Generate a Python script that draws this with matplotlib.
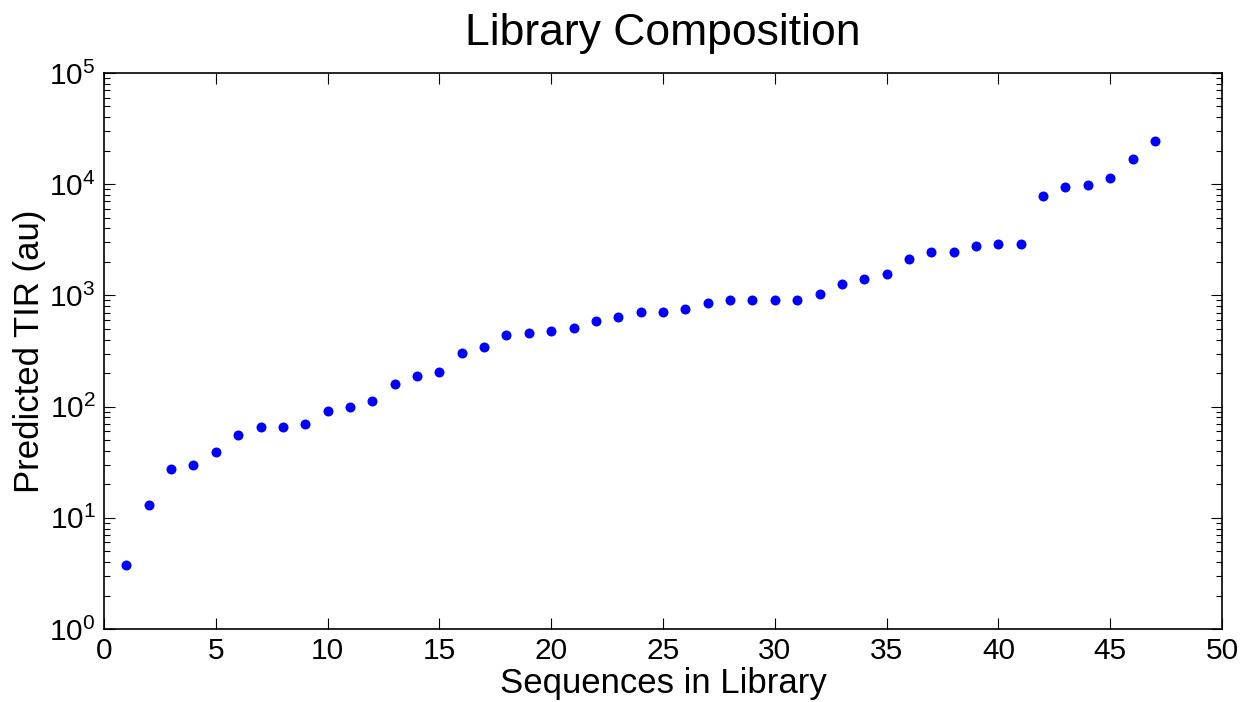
import numpy as np
import matplotlib.pyplot as plt
from matplotlib.ticker import LogLocator, NullFormatter

plt.rcParams['font.family'] = ['Liberation Sans', 'DejaVu Sans']
plt.rcParams['mathtext.fontset'] = 'custom'
plt.rcParams['mathtext.rm'] = 'Liberation Sans'
plt.rcParams['mathtext.it'] = 'Liberation Sans'

# predicted TIR per sequence, sorted
seq_idx = np.arange(1, 48)
tir = [3.77, 13.1, 27.5, 29.9, 39.1, 55.6, 66, 66, 70.3, 92,
       99.4, 112, 159, 189, 205, 302, 340, 439, 455, 474,
       512, 587, 634, 713, 712, 753, 848, 902, 902, 902,
       902, 1035, 1256, 1402, 1556, 2124, 2476, 2476, 2781, 2900,
       2900, 7830, 9520, 9840, 11320, 16800, 24700]

x_ticks = [0, 5, 10, 15, 20, 25, 30, 35, 40, 45, 50]
y_ticks = [1, 10, 100, 1000, 10000, 100000]
y_tick_labels = ['$10^{0}$', '$10^{1}$', '$10^{2}$', '$10^{3}$', '$10^{4}$', '$10^{5}$']

fig = plt.figure(figsize=(12.44, 7.02), dpi=100)
ax = fig.add_axes([104 / 1244, 1 - 629 / 702, (1222 - 104) / 1244, (629 - 73) / 702])

ax.plot(seq_idx, tir, 'o', color='#0000ff', markersize=7.2, markeredgewidth=0)

ax.set_yscale('log')
ax.set_xlim(0, 50)
ax.set_ylim(1, 1e5)
ax.set_xticks(x_ticks)
ax.set_xticklabels([str(t) for t in x_ticks])
ax.set_yticks(y_ticks)
ax.set_yticklabels(y_tick_labels)
ax.yaxis.set_minor_locator(LogLocator(base=10, subs=np.arange(2, 10), numticks=20))
ax.yaxis.set_minor_formatter(NullFormatter())

ax.tick_params(which='both', direction='in', top=True, right=True, labelsize=21.5, width=0.8, pad=6)
ax.tick_params(which='major', length=8)
ax.tick_params(which='minor', length=4.5)
for sp in ax.spines.values():
    sp.set_linewidth(1.2)

ax.set_title('Library Composition', fontsize=32, pad=20)
ax.set_xlabel('Sequences in Library', fontsize=25, labelpad=1)
ax.set_ylabel('Predicted TIR (au)', fontsize=25, labelpad=2)

fig.savefig('out.png', dpi=100)
